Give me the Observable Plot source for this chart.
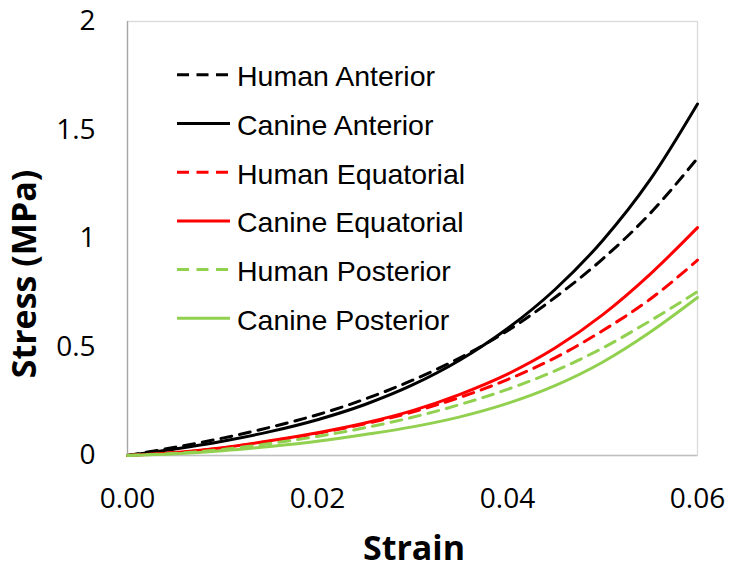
<!DOCTYPE html>
<html><head><meta charset="utf-8">
<script src="https://cdn.jsdelivr.net/npm/d3@7"></script>
<script src="https://cdn.jsdelivr.net/npm/@observablehq/plot@0.6"></script>
<style>body{margin:0;background:#fff}</style>
</head><body><div id="chart"></div>
<script>
const strain = [0, 0.005, 0.01, 0.015, 0.02, 0.025, 0.03, 0.035, 0.04, 0.045, 0.05, 0.055, 0.06];
const humanAnterior    = [0, 0.038, 0.080, 0.130, 0.188, 0.260, 0.347, 0.450, 0.575, 0.728, 0.905, 1.115, 1.370];
const canineAnterior   = [0, 0.030, 0.066, 0.110, 0.165, 0.235, 0.325, 0.440, 0.585, 0.765, 0.990, 1.270, 1.620];
const humanEquatorial  = [0, 0.013, 0.035, 0.066, 0.102, 0.146, 0.200, 0.268, 0.350, 0.450, 0.575, 0.720, 0.900];
const canineEquatorial = [0, 0.014, 0.036, 0.068, 0.105, 0.150, 0.207, 0.282, 0.375, 0.495, 0.648, 0.835, 1.050];
const humanPosterior   = [0, 0.010, 0.028, 0.055, 0.088, 0.128, 0.176, 0.235, 0.305, 0.390, 0.495, 0.620, 0.755];
const caninePosterior  = [0, 0.008, 0.022, 0.042, 0.066, 0.097, 0.132, 0.178, 0.240, 0.322, 0.430, 0.568, 0.728];
const seriesNames = ["Human Anterior","Canine Anterior","Human Equatorial","Canine Equatorial","Human Posterior","Canine Posterior"];
const seriesValues = [humanAnterior, canineAnterior, humanEquatorial, canineEquatorial, humanPosterior, caninePosterior];
const seriesColors = ["#000000","#000000","#ff0000","#ff0000","#92d050","#92d050"];
const seriesDashed = [true,false,true,false,true,false];
const xTicks = [0, 0.02, 0.04, 0.06];
const yTicks = [0, 0.5, 1, 1.5, 2];

const DASH = "11,8";
const lineMarks = seriesNames.map((name, k) => Plot.line(
  strain.map((x, i) => ({strain: x, stress: seriesValues[k][i], name})),
  {x: "strain", y: "stress", stroke: seriesColors[k], strokeWidth: 3,
   strokeDasharray: seriesDashed[k] ? DASH : null, curve: "monotone-x"}
));

const chart = Plot.plot({
  width: 734, height: 570,
  marginLeft: 127, marginRight: 37, marginTop: 21, marginBottom: 115,
  x: {domain: [0, 0.06]},
  y: {domain: [0, 2]},
  style: {fontFamily: "'Open Sans', sans-serif", fontSize: "28px", color: "#000", background: "#fff", overflow: "visible"},
  marks: [
    Plot.frame({stroke: "#d9d9d9", strokeWidth: 1.3}),
    Plot.ruleX([0], {stroke: "#a6a6a6", strokeWidth: 1.3}),
    Plot.ruleY([0], {stroke: "#bfbfbf", strokeWidth: 1.3}),
    Plot.axisX({ticks: xTicks, tickFormat: d => d.toFixed(2), tickSize: 0, tickPadding: 33, label: null, fontSize: 28}),
    Plot.axisY({ticks: yTicks, tickFormat: d => String(d), tickSize: 0, tickPadding: 32, label: null, fontSize: 28}),
    ...lineMarks
  ]
});
document.getElementById("chart").appendChild(chart);

const svg = d3.select(chart);
svg.append("text").attr("x", 414).attr("y", 560).attr("text-anchor", "middle")
  .style("font-family", "'Open Sans', sans-serif").style("font-weight", "bold").style("font-size", "34px")
  .attr("fill", "#000").text("Strain");
svg.append("text").attr("transform", "translate(36,274) rotate(-90)").attr("text-anchor", "middle")
  .style("font-family", "'Open Sans', sans-serif").style("font-weight", "bold").style("font-size", "34px")
  .attr("fill", "#000").text("Stress (MPa)");

const lg = svg.append("g").attr("text-anchor", "start");
seriesNames.forEach((name, k) => {
  const y = 74.8 + k * 48.7;
  lg.append("line").attr("x1", 177).attr("x2", 230).attr("y1", y).attr("y2", y)
    .attr("stroke", seriesColors[k]).attr("stroke-width", 3)
    .attr("stroke-dasharray", seriesDashed[k] ? "12,7.5" : null);
  lg.append("text").attr("x", 237).attr("y", y + 11.5).attr("text-anchor", "start")
    .style("font-family", "'Liberation Sans', Arial, sans-serif").style("font-size", "28.5px")
    .attr("fill", "#000").text(name);
});
</script></body></html>
